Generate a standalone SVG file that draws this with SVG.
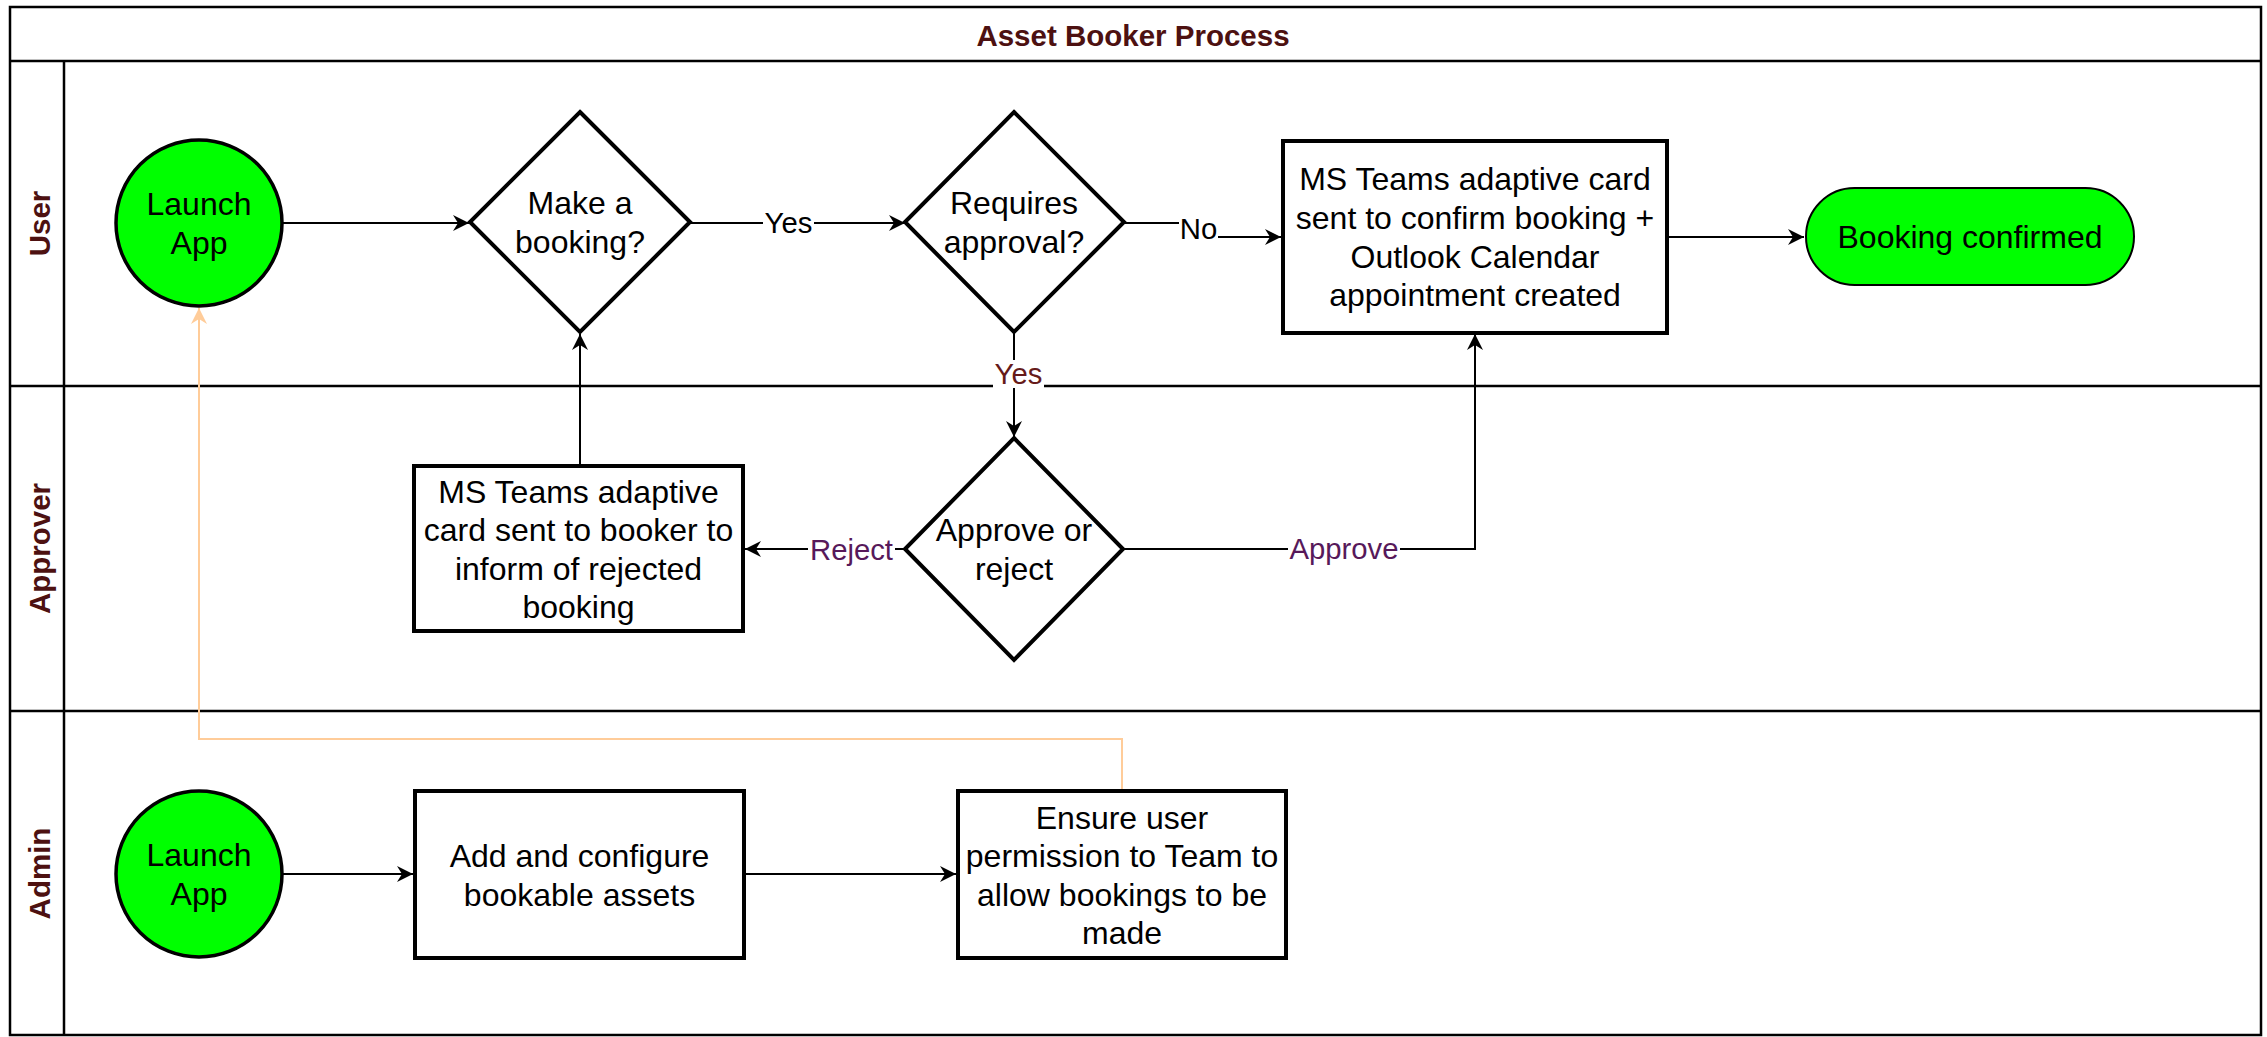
<svg xmlns="http://www.w3.org/2000/svg" width="2267" height="1037" viewBox="0 0 2267 1037">
<style>
.lane{fill:none;stroke:#000;stroke-width:2.5}
.lbl{font-family:"Liberation Sans",Arial,sans-serif;font-weight:bold;font-size:29.5px;fill:#4d1111;text-anchor:middle}
.t{font-family:"Liberation Sans",Arial,sans-serif;font-size:32px;fill:#000;text-anchor:middle}
.el{font-family:"Liberation Sans",Arial,sans-serif;font-size:29.3px;text-anchor:middle}
.box{fill:#fff;stroke:#000;stroke-width:4}
.dia{fill:#fff;stroke:#000;stroke-width:4;stroke-linejoin:miter}
.start{fill:#00ff00;stroke:#000;stroke-width:3.5}
.edge{fill:none;stroke:#000;stroke-width:2}
.orange{fill:none;stroke:#ffcc99;stroke-width:2}
.bg{fill:#fff}
</style>
<defs>
<marker id="arr" markerUnits="userSpaceOnUse" viewBox="0 0 16 16" refX="16" refY="8" markerWidth="16" markerHeight="16" orient="auto">
<path d="M0,0 L16,8 L0,16 L5,8 Z" fill="#000"/>
</marker>
<marker id="arrO" markerUnits="userSpaceOnUse" viewBox="0 0 16 16" refX="16" refY="8" markerWidth="16" markerHeight="16" orient="auto">
<path d="M0,0 L16,8 L0,16 L5,8 Z" fill="#ffcc99"/>
</marker>
</defs>
<rect x="0" y="0" width="2267" height="1037" fill="#fff"/>
<g id="pool">
<rect class="lane" x="10" y="7" width="2251" height="1028"/>
<line class="lane" x1="10" y1="61" x2="2261" y2="61"/>
<line class="lane" x1="10" y1="386" x2="2261" y2="386"/>
<line class="lane" x1="10" y1="711" x2="2261" y2="711"/>
<line class="lane" x1="64" y1="61" x2="64" y2="1035"/>
<text class="lbl" x="1133" y="45.5">Asset Booker Process</text>
<text class="lbl" transform="translate(49.5,223.5) rotate(-90)">User</text>
<text class="lbl" transform="translate(49.5,548.5) rotate(-90)">Approver</text>
<text class="lbl" transform="translate(49.5,873.5) rotate(-90)">Admin</text>
</g>
<g id="connectors">
<path class="edge" d="M282,223 L469,223" marker-end="url(#arr)"/>
<path class="edge" d="M690,223 L905,223" marker-end="url(#arr)"/>
<path class="edge" d="M1124,223 L1198,223 L1198,237 L1281,237" marker-end="url(#arr)"/>
<path class="edge" d="M1667,237 L1804,237" marker-end="url(#arr)"/>
<path class="edge" d="M1014,333 L1014,437" marker-end="url(#arr)"/>
<path class="edge" d="M1123,549 L1475,549 L1475,334" marker-end="url(#arr)"/>
<path class="edge" d="M905,549 L745,549" marker-end="url(#arr)"/>
<path class="edge" d="M580,466 L580,334" marker-end="url(#arr)"/>
<path class="edge" d="M282,874 L413,874" marker-end="url(#arr)"/>
<path class="edge" d="M744,874 L956,874" marker-end="url(#arr)"/>
<path class="orange" d="M1122,791 L1122,739 L199,739 L199,308" marker-end="url(#arrO)"/>
<rect class="bg" x="763" y="210" width="51" height="26"/>
<text class="el" x="788.5" y="233" fill="#000">Yes</text>
<rect class="bg" x="1179" y="216" width="39" height="27"/>
<text class="el" x="1198.5" y="239" fill="#000">No</text>
<rect class="bg" x="993" y="360" width="51" height="28"/>
<text class="el" x="1018.5" y="384" fill="#661a1a">Yes</text>
<rect class="bg" x="1288" y="536" width="112" height="26"/>
<text class="el" x="1344" y="559" fill="#57195a">Approve</text>
<rect class="bg" x="808" y="537" width="87" height="26"/>
<text class="el" x="851.5" y="560" fill="#57195a">Reject</text>
</g>
<g id="user-launch">
<circle class="start" cx="199" cy="223" r="83"/>
<text class="t" x="199" y="215">Launch</text>
<text class="t" x="199" y="254">App</text>
</g>
<g id="make-booking">
<polygon class="dia" points="580,112 690,222 580,332 470,222"/>
<text class="t" x="580" y="214">Make a</text>
<text class="t" x="580" y="253">booking?</text>
</g>
<g id="requires-approval">
<polygon class="dia" points="1014,112 1124,222 1014,332 905,222"/>
<text class="t" x="1014" y="214">Requires</text>
<text class="t" x="1014" y="253">approval?</text>
</g>
<g id="confirm-card">
<rect class="box" x="1283" y="141" width="384" height="192"/>
<text class="t" x="1475" y="190">MS Teams adaptive card</text>
<text class="t" x="1475" y="229">sent to confirm booking +</text>
<text class="t" x="1475" y="268">Outlook Calendar</text>
<text class="t" x="1475" y="306">appointment created</text>
</g>
<g id="booking-confirmed">
<rect x="1806" y="188" width="328" height="97" rx="48.5" ry="48.5" fill="#00ff00" stroke="#000" stroke-width="2"/>
<text class="t" x="1970" y="248" fill="#1a1a1a">Booking confirmed</text>
</g>
<g id="approve-reject">
<polygon class="dia" points="1014,438 1123,549 1014,660 905,549"/>
<text class="t" x="1014" y="541">Approve or</text>
<text class="t" x="1014" y="580">reject</text>
</g>
<g id="rejected-card">
<rect class="box" x="414" y="466" width="329" height="165"/>
<text class="t" x="578.5" y="503">MS Teams adaptive</text>
<text class="t" x="578.5" y="541">card sent to booker to</text>
<text class="t" x="578.5" y="580">inform of rejected</text>
<text class="t" x="578.5" y="618">booking</text>
</g>
<g id="admin-launch">
<circle class="start" cx="199" cy="874" r="83"/>
<text class="t" x="199" y="866">Launch</text>
<text class="t" x="199" y="905">App</text>
</g>
<g id="add-assets">
<rect class="box" x="415" y="791" width="329" height="167"/>
<text class="t" x="579.5" y="867">Add and configure</text>
<text class="t" x="579.5" y="906">bookable assets</text>
</g>
<g id="ensure-permission">
<rect class="box" x="958" y="791" width="328" height="167"/>
<text class="t" x="1122" y="828.5">Ensure user</text>
<text class="t" x="1122" y="867">permission to Team to</text>
<text class="t" x="1122" y="905.5">allow bookings to be</text>
<text class="t" x="1122" y="944">made</text>
</g>
</svg>
